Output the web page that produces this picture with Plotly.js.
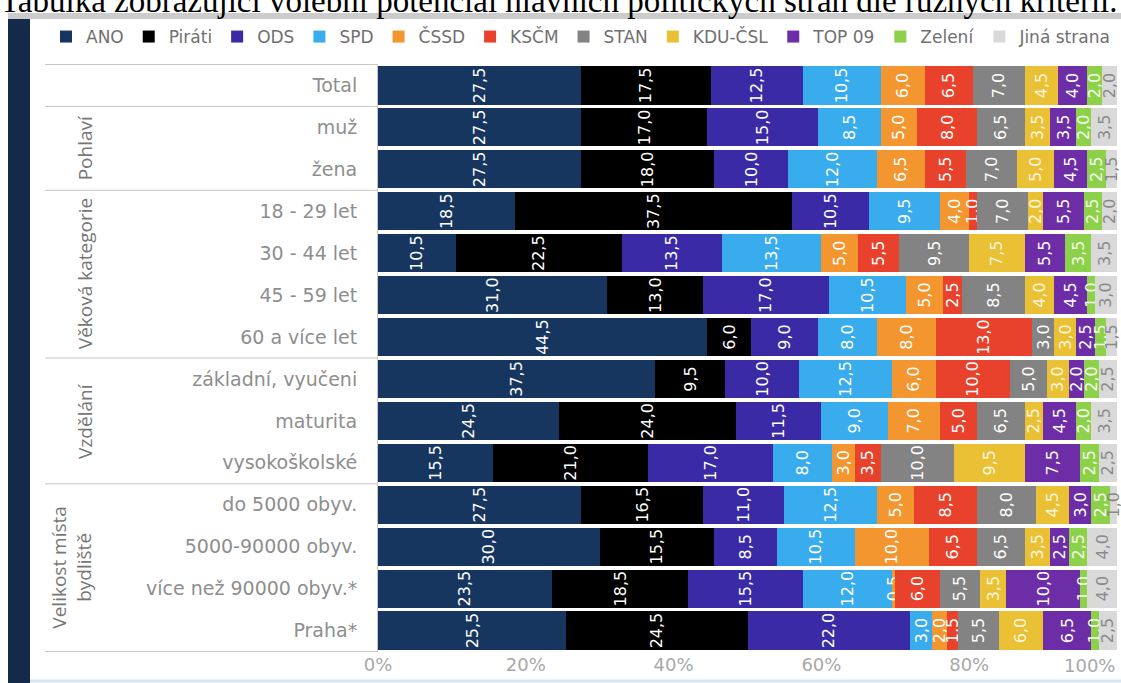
<!DOCTYPE html>
<html>
<head>
<meta charset="utf-8">
<script src="https://cdn.plot.ly/plotly-3.0.1.min.js"></script>
<style>
  html, body { margin: 0; padding: 0; background: #ffffff; }
  #chart { width: 1121px; height: 683px; }
</style>
</head>
<body>
<div id="chart"></div>
<script>
// ---------- DATA ----------
const chartTitle = "Tabulka zobrazující volební potenciál hlavních politických stran dle různých kritérií.";
const categories = [
  "Total", "muž", "žena",
  "18 - 29 let", "30 - 44 let", "45 - 59 let", "60 a více let",
  "základní, vyučeni", "maturita", "vysokoškolské",
  "do 5000 obyv.", "5000-90000 obyv.", "více než 90000 obyv.*", "Praha*"
];
const groupNames = ["Pohlaví", "Věková kategorie", "Vzdělání", "Velikost místa<br>bydliště"];
const groupStart = [1, 3, 7, 10];
const groupEnd   = [2, 6, 9, 13];

const parties = ["ANO", "Piráti", "ODS", "SPD", "ČSSD", "KSČM", "STAN", "KDU-ČSL", "TOP 09", "Zelení", "Jiná strana"];
const ano    = [27.5, 27.5, 27.5, 18.5, 10.5, 31.0, 44.5, 37.5, 24.5, 15.5, 27.5, 30.0, 23.5, 25.5];
const pirati = [17.5, 17.0, 18.0, 37.5, 22.5, 13.0,  6.0,  9.5, 24.0, 21.0, 16.5, 15.5, 18.5, 24.5];
const ods    = [12.5, 15.0, 10.0, 10.5, 13.5, 17.0,  9.0, 10.0, 11.5, 17.0, 11.0,  8.5, 15.5, 22.0];
const spd    = [10.5,  8.5, 12.0,  9.5, 13.5, 10.5,  8.0, 12.5,  9.0,  8.0, 12.5, 10.5, 12.0,  3.0];
const cssd   = [ 6.0,  5.0,  6.5,  4.0,  5.0,  5.0,  8.0,  6.0,  7.0,  3.0,  5.0, 10.0,  0.5,  2.0];
const kscm   = [ 6.5,  8.0,  5.5,  1.0,  5.5,  2.5, 13.0, 10.0,  5.0,  3.5,  8.5,  6.5,  6.0,  1.5];
const stan   = [ 7.0,  6.5,  7.0,  7.0,  9.5,  8.5,  3.0,  5.0,  6.5, 10.0,  8.0,  6.5,  5.5,  5.5];
const kdu    = [ 4.5,  3.5,  5.0,  2.0,  7.5,  4.0,  3.0,  3.0,  2.5,  9.5,  4.5,  3.5,  3.5,  6.0];
const top09  = [ 4.0,  3.5,  4.5,  5.5,  5.5,  4.5,  2.5,  2.0,  4.5,  7.5,  3.0,  2.5, 10.0,  6.5];
const zeleni = [ 2.0,  2.0,  2.5,  2.5,  3.5,  1.0,  1.5,  2.0,  2.0,  2.5,  2.5,  2.5,  1.0,  1.0];
const jina   = [ 2.0,  3.5,  1.5,  2.0,  3.5,  3.0,  1.5,  2.5,  3.5,  2.5,  1.0,  4.0,  4.0,  2.5];
const seriesValues = [ano, pirati, ods, spd, cssd, kscm, stan, kdu, top09, zeleni, jina];

const tickVals = [0, 20, 40, 60, 80, 100];
const tickText = ["0%", "20%", "40%", "60%", "80%", "100%"];

// ---------- STYLE ----------
const colors = ["#17365f", "#000000", "#3a2aa6", "#38aced", "#f4962f", "#e8422c",
                "#838383", "#eac035", "#6c2da6", "#8dd14b", "#d9d9d9"];
const textColors = ["#ffffff", "#ffffff", "#ffffff", "#ffffff", "#ffffff", "#ffffff",
                    "#ffffff", "#fff6dc", "#ffffff", "#f4ffe8", "#8a8a8a"];

const W = 1121, H = 683;
const M = { l: 378, r: 4, t: 64, b: 31 };
const PW = W - M.l - M.r, PH = H - M.t - M.b;
const xp = px => (px - M.l) / PW;
const yp = py => (H - M.b - py) / PH;

const traces = parties.map((p, i) => ({
  type: "bar",
  orientation: "h",
  name: p,
  y: categories,
  x: seriesValues[i],
  marker: { color: colors[i], line: { width: 0 } },
  texttemplate: "%{x:.1f}",
  textposition: "inside",
  insidetextanchor: "middle",
  textangle: -90,
  constraintext: "none",
  cliponaxis: false,
  textfont: { family: "DejaVu Sans", size: 16, color: textColors[i] },
  hoverinfo: "name+x+y"
}));

const sepIdx = [-0.5, 0.5, 2.5, 6.5, 9.5, 13.5];
const shapes = [];
sepIdx.forEach(v => shapes.push({
  type: "line", xref: "paper", yref: "y",
  x0: xp(45), x1: 0, y0: v, y1: v,
  line: { color: "#c8c8c8", width: 1 }
}));
// left navy strip, top toolbar edge, bottom frame line (page decoration)
shapes.push({ type: "rect", xref: "paper", yref: "paper", x0: xp(8), x1: xp(30), y0: yp(H), y1: yp(13),
  fillcolor: "#142a4b", line: { width: 0 }, layer: "below" });
shapes.push({ type: "rect", xref: "paper", yref: "paper", x0: xp(8), x1: xp(W), y0: yp(19), y1: yp(13),
  fillcolor: "#cccccc", line: { width: 0 }, layer: "below" });
shapes.push({ type: "line", xref: "paper", yref: "paper", x0: xp(30), x1: xp(W), y0: yp(681), y1: yp(681),
  line: { color: "#d3e6f2", width: 3 } });

const annotations = groupNames.map((g, i) => ({
  text: g, xref: "paper", yref: "y",
  x: xp(i === 3 ? 72 : 85), y: (groupStart[i] + groupEnd[i]) / 2,
  textangle: -90, showarrow: false, xanchor: "center", yanchor: "middle",
  font: { family: "Open Sans", size: 19, color: "#777777" }
}));
annotations.push({
  text: tickText[tickText.length - 1], xref: "x", yref: "paper",
  x: tickVals[tickVals.length - 1], y: yp(665), xanchor: "right", yanchor: "middle",
  showarrow: false, font: { family: "DejaVu Sans", size: 18, color: "#a8a8a8" }
});

const layout = {
  width: W, height: H,
  margin: M,
  paper_bgcolor: "#ffffff", plot_bgcolor: "#ffffff",
  separators: ", ",
  barmode: "stack",
  bargap: 0.09,
  title: {
    text: chartTitle, x: 0, xref: "container", xanchor: "left",
    y: 1 - 12 / H, yref: "container", yanchor: "bottom",
    font: { family: "Liberation Serif", size: 33, color: "#000000" }
  },
  xaxis: {
    range: [0, 100], tickvals: tickVals.slice(0, -1), ticktext: tickText.slice(0, -1),
    showgrid: false, zeroline: false, showline: false, ticks: "",
    tickfont: { family: "DejaVu Sans", size: 18, color: "#a8a8a8" },
    automargin: false, fixedrange: true
  },
  yaxis: {
    type: "category", autorange: "reversed",
    showgrid: false, zeroline: false, showline: true, linecolor: "#c8c8c8", linewidth: 1,
    ticks: "", ticklabelstandoff: 16,
    tickfont: { family: "DejaVu Sans", size: 19, color: "#8e8e8e" },
    automargin: false, fixedrange: true
  },
  showlegend: true,
  legend: {
    orientation: "h", x: xp(46), xanchor: "left", y: yp(37), yanchor: "middle",
    traceorder: "normal", itemwidth: 30, itemclick: false,
    font: { family: "DejaVu Sans", size: 17, color: "#707070" },
    bgcolor: "rgba(0,0,0,0)"
  },
  shapes: shapes,
  annotations: annotations
};

Plotly.newPlot("chart", traces, layout, { displayModeBar: false, staticPlot: true });
</script>
</body>
</html>
